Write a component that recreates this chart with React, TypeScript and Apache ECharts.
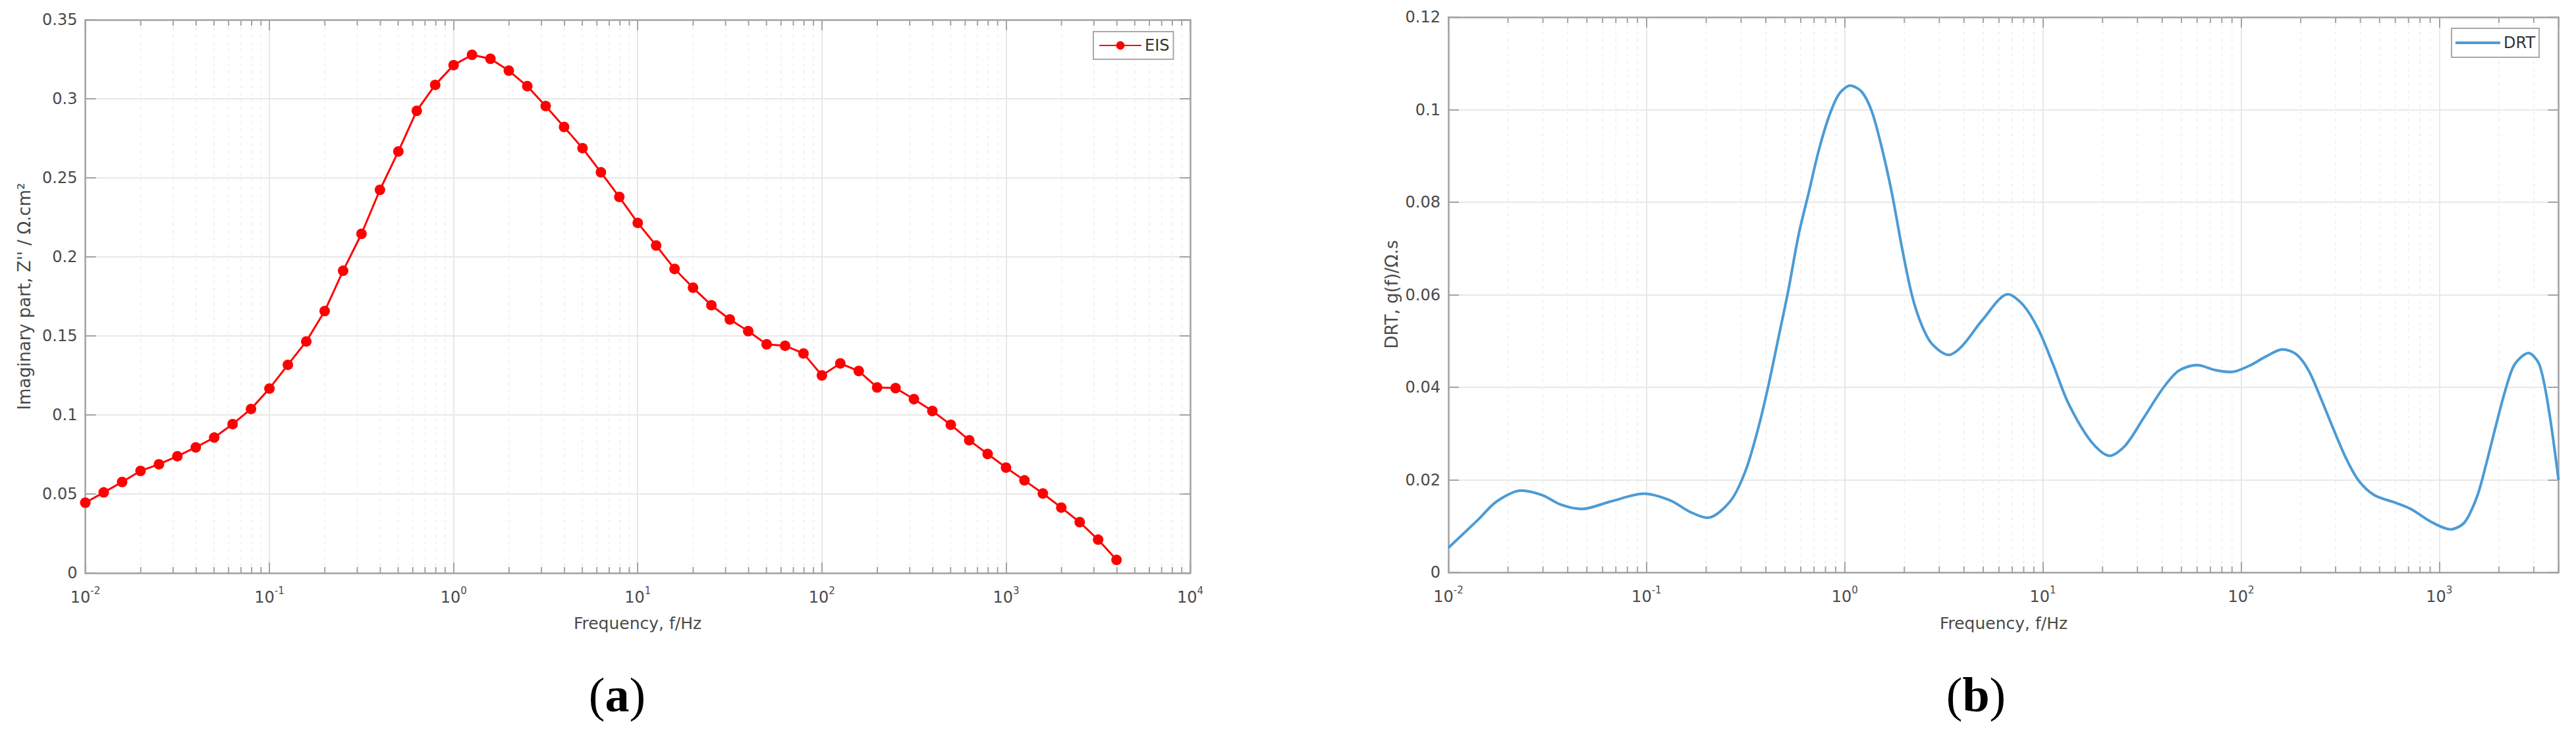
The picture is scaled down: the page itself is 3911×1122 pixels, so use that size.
import React, { useEffect, useRef } from 'react';
import * as echarts from 'echarts';

// ---------- data ----------
const eisFreq = [
  0.01, 0.01259, 0.01585, 0.01995, 0.02512, 0.03162, 0.03981, 0.05012, 0.0631, 0.07943,
  0.1, 0.1259, 0.1585, 0.1995, 0.2512, 0.3162, 0.3981, 0.5012, 0.631, 0.7943,
  1, 1.259, 1.585, 1.995, 2.512, 3.162, 3.981, 5.012, 6.31, 7.943,
  10, 12.59, 15.85, 19.95, 25.12, 31.62, 39.81, 50.12, 63.1, 79.43,
  100, 125.9, 158.5, 199.5, 251.2, 316.2, 398.1, 501.2, 631, 794.3,
  1000, 1259, 1585, 1995, 2512, 3162, 3981,
];
const eisZ = [
  0.0445, 0.051, 0.0576, 0.0646, 0.0688, 0.0739, 0.0795, 0.0857, 0.0942, 0.1038,
  0.1167, 0.1317, 0.1465, 0.1657, 0.1912, 0.2146, 0.2424, 0.2667, 0.2924, 0.3088,
  0.3213, 0.3278, 0.3253, 0.3178, 0.308, 0.2954, 0.2822, 0.2688, 0.2535, 0.2379,
  0.2215, 0.2072, 0.1924, 0.1805, 0.1694, 0.1604, 0.153, 0.1447, 0.1438, 0.1389,
  0.125, 0.1326, 0.1278, 0.1174, 0.117, 0.11, 0.1025, 0.0938, 0.084, 0.0753,
  0.0667, 0.0586, 0.0503, 0.0414, 0.0322, 0.0211, 0.0083,
];

const drtFreq = [
  0.01, 0.01406, 0.0175, 0.0233, 0.0297, 0.0371, 0.0472, 0.0656, 0.0973, 0.1324,
  0.1652, 0.2032, 0.2649, 0.3155, 0.3652, 0.4111, 0.4624, 0.52, 0.5848, 0.6577,
  0.7396, 0.8307, 0.9333, 1.066, 1.217, 1.368, 1.538, 1.729, 1.944, 2.187,
  2.459, 2.765, 3.342, 3.925, 4.966, 6.663, 7.95, 9.469, 11.29, 13.46,
  17.5, 21.73, 26.04, 32.37, 40.21, 48.16, 59.86, 74.42, 89.19,
  110.7, 132.7, 161.8, 190.4, 220.1, 254.5, 294.2, 339.9, 392.8, 470.2,
  605.6, 726.1, 901.9, 1140, 1342, 1552, 1730, 1929, 2150, 2397,
  2821, 3201, 3565, 4000,
];
const drtG = [
  0.0053, 0.0113, 0.0153, 0.0177, 0.0167, 0.0146, 0.0137, 0.0153, 0.017, 0.0155,
  0.0131, 0.0118, 0.0154, 0.0219, 0.031, 0.0402, 0.0506, 0.0611, 0.0729, 0.082,
  0.0912, 0.0984, 0.1033, 0.1052, 0.1039, 0.0997, 0.0918, 0.082, 0.0702, 0.0598,
  0.0532, 0.0493, 0.047, 0.049, 0.0546, 0.0601, 0.0578, 0.0526, 0.0448, 0.0365,
  0.0283, 0.0252, 0.0274, 0.0335, 0.0397, 0.0435, 0.0448, 0.0437, 0.0433,
  0.0447, 0.0466, 0.0482, 0.0471, 0.0435, 0.0373, 0.0307, 0.0245, 0.0198, 0.0167,
  0.015, 0.0136, 0.011, 0.0093, 0.0108, 0.0164, 0.0236, 0.0316, 0.0392, 0.0449,
  0.0474, 0.0449, 0.0354, 0.02,
];

// minor (2..9 per decade) tick positions of the log frequency axes
const minorTicksA = [
  0.02, 0.03, 0.04, 0.05, 0.06, 0.07, 0.08, 0.09,
  0.2, 0.3, 0.4, 0.5, 0.6, 0.7, 0.8, 0.9,
  2, 3, 4, 5, 6, 7, 8, 9,
  20, 30, 40, 50, 60, 70, 80, 90,
  200, 300, 400, 500, 600, 700, 800, 900,
  2000, 3000, 4000, 5000, 6000, 7000, 8000, 9000,
];
const minorTicksB = [
  0.02, 0.03, 0.04, 0.05, 0.06, 0.07, 0.08, 0.09,
  0.2, 0.3, 0.4, 0.5, 0.6, 0.7, 0.8, 0.9,
  2, 3, 4, 5, 6, 7, 8, 9,
  20, 30, 40, 50, 60, 70, 80, 90,
  200, 300, 400, 500, 600, 700, 800, 900,
  2000, 3000,
];

const FONT = 'DejaVu Sans';
const LABEL_COLOR = '#4a4a4a';
const AXIS_COLOR = '#a3a3a3';
const GRID_COLOR = '#e8e8e8';

function decadeLabel(v: number): string {
  const l = Math.log10(v);
  const e = Math.round(l);
  if (Math.abs(l - e) > 1e-6) return '';
  return `{b|10}{s|${e}}`;
}

function makeX(gridIndex: number, max: number, bottom: boolean) {
  return {
    type: 'log',
    logBase: 10,
    gridIndex,
    min: 0.01,
    max,
    position: bottom ? 'bottom' : 'top',
    axisLine: { show: true, onZero: false, lineStyle: { color: AXIS_COLOR, width: 2.5 } },
    axisTick: { show: true, inside: true, length: 16, lineStyle: { color: AXIS_COLOR, width: 2 } },
    minorTick: { show: false },
    splitLine: { show: bottom, lineStyle: { color: GRID_COLOR, width: 2 } },
    axisLabel: bottom
      ? {
          show: true,
          margin: 19,
          formatter: decadeLabel,
          rich: {
            b: { fontSize: 24, fontFamily: FONT, color: LABEL_COLOR, lineHeight: 36, verticalAlign: 'middle' },
            s: { fontSize: 15, fontFamily: FONT, color: LABEL_COLOR, lineHeight: 12, verticalAlign: 'top' },
          },
        }
      : { show: false },
  };
}

function makeY(gridIndex: number, max: number, interval: number, left: boolean) {
  return {
    type: 'value',
    gridIndex,
    min: 0,
    max,
    interval,
    position: left ? 'left' : 'right',
    axisLine: { show: true, onZero: false, lineStyle: { color: AXIS_COLOR, width: 2.5 } },
    axisTick: { show: true, inside: true, length: 16, lineStyle: { color: AXIS_COLOR, width: 2 } },
    splitLine: { show: left, lineStyle: { color: GRID_COLOR, width: 2 } },
    axisLabel: left
      ? { show: true, margin: 12, fontSize: 24, fontFamily: FONT, color: LABEL_COLOR }
      : { show: false },
  };
}

function minorRenderer(yMax: number) {
  return (params: any, api: any) => {
    const v = api.value(0);
    const b = api.coord([v, 0]);
    const t = api.coord([v, yMax]);
    const x = b[0];
    return {
      type: 'group',
      children: [
        {
          type: 'line',
          shape: { x1: x, y1: t[1], x2: x, y2: b[1] },
          style: { stroke: '#efefef', lineWidth: 1.5, lineDash: [5, 6] },
        },
        {
          type: 'line',
          shape: { x1: x, y1: b[1], x2: x, y2: b[1] - 9 },
          style: { stroke: AXIS_COLOR, lineWidth: 2 },
        },
        {
          type: 'line',
          shape: { x1: x, y1: t[1], x2: x, y2: t[1] + 9 },
          style: { stroke: AXIS_COLOR, lineWidth: 2 },
        },
      ],
    };
  };
}

export default function App() {
  const ref = useRef<HTMLDivElement>(null);

  useEffect(() => {
    if (!ref.current) return;
    const chart = echarts.init(ref.current, undefined, { renderer: 'svg' });

    const legendCommon = {
      orient: 'horizontal',
      itemGap: 0,
      borderColor: '#a8a8a8',
      borderWidth: 2,
      borderRadius: 0,
      backgroundColor: '#ffffff',
      textStyle: { fontSize: 24, fontFamily: FONT, color: '#333333' },
    };

    const captionRich = {
      p: { fontSize: 74, fontFamily: 'Liberation Serif', color: '#000000' },
      b: { fontSize: 74, fontFamily: 'Liberation Serif', fontWeight: 'bold', color: '#000000' },
    };

    const textCommon = {
      fontFamily: FONT,
      fill: LABEL_COLOR,
      align: 'center',
      verticalAlign: 'middle',
      textAlign: 'center',
      textVerticalAlign: 'middle',
    };

    const option: any = {
      animation: false,
      backgroundColor: '#ffffff',
      textStyle: { fontFamily: FONT },
      grid: [
        { left: 129.5, top: 30, width: 1677.5, height: 840, containLabel: false },
        { left: 2199, top: 26, width: 1685.5, height: 843, containLabel: false },
      ],
      xAxis: [
        makeX(0, 10000, true),
        makeX(0, 10000, false),
        makeX(1, 4000, true),
        makeX(1, 4000, false),
      ],
      yAxis: [
        makeY(0, 0.35, 0.05, true),
        makeY(0, 0.35, 0.05, false),
        makeY(1, 0.12, 0.02, true),
        makeY(1, 0.12, 0.02, false),
      ],
      legend: [
        {
          ...legendCommon,
          data: ['EIS'],
          left: 1660,
          top: 48,
          itemWidth: 64,
          itemHeight: 16,
          padding: [9, 6, 9, 8],
        },
        {
          ...legendCommon,
          data: [{ name: 'DRT', icon: 'rect' }],
          left: 3722,
          top: 43,
          itemWidth: 68,
          itemHeight: 4,
          padding: [10, 6, 10, 6],
        },
      ],
      series: [
        {
          type: 'custom',
          name: 'minorA',
          xAxisIndex: 0,
          yAxisIndex: 0,
          z: 1,
          silent: true,
          renderItem: minorRenderer(0.35),
          encode: { x: 0, y: 1 },
          data: minorTicksA.map((v) => [v, 0]),
        },
        {
          type: 'custom',
          name: 'minorB',
          xAxisIndex: 2,
          yAxisIndex: 2,
          z: 1,
          silent: true,
          renderItem: minorRenderer(0.12),
          encode: { x: 0, y: 1 },
          data: minorTicksB.map((v) => [v, 0]),
        },
        {
          type: 'line',
          name: 'EIS',
          xAxisIndex: 0,
          yAxisIndex: 0,
          z: 3,
          data: eisFreq.map((f, i) => [f, eisZ[i]]),
          symbol: 'circle',
          symbolSize: 16,
          showSymbol: true,
          lineStyle: { color: '#ff0000', width: 3 },
          itemStyle: { color: '#ff0000' },
        },
        {
          type: 'line',
          name: 'DRT',
          xAxisIndex: 2,
          yAxisIndex: 2,
          z: 3,
          data: drtFreq.map((f, i) => [f, drtG[i]]),
          smooth: 0.3,
          symbol: 'none',
          lineStyle: { color: '#4b9bd5', width: 4 },
          itemStyle: { color: '#4b9bd5' },
        },
      ],
      graphic: [
        {
          type: 'text',
          x: 37,
          y: 450,
          rotation: Math.PI / 2,
          style: { ...textCommon, text: "Imaginary part, Z'' / Ω.cm²", fontSize: 26 },
        },
        {
          type: 'text',
          x: 2113,
          y: 447,
          rotation: Math.PI / 2,
          style: { ...textCommon, text: 'DRT, g(f)/Ω.s', fontSize: 26 },
        },
        {
          type: 'text',
          x: 968,
          y: 946,
          style: { ...textCommon, text: 'Frequency, f/Hz', fontSize: 25 },
        },
        {
          type: 'text',
          x: 3042,
          y: 946,
          style: { ...textCommon, text: 'Frequency, f/Hz', fontSize: 25 },
        },
        {
          type: 'text',
          x: 937,
          y: 1055,
          style: {
            text: '{p|(}{b|a}{p|)}',
            rich: captionRich,
            align: 'center',
            verticalAlign: 'middle',
            textAlign: 'center',
            textVerticalAlign: 'middle',
          },
        },
        {
          type: 'text',
          x: 3000,
          y: 1055,
          style: {
            text: '{p|(}{b|b}{p|)}',
            rich: captionRich,
            align: 'center',
            verticalAlign: 'middle',
            textAlign: 'center',
            textVerticalAlign: 'middle',
          },
        },
      ],
    };

    chart.setOption(option);
    return () => {
      chart.dispose();
    };
  }, []);

  return (
    <div
      ref={ref}
      style={{ position: 'absolute', left: 0, top: 0, width: '3911px', height: '1122px', background: '#fff' }}
    />
  );
}
